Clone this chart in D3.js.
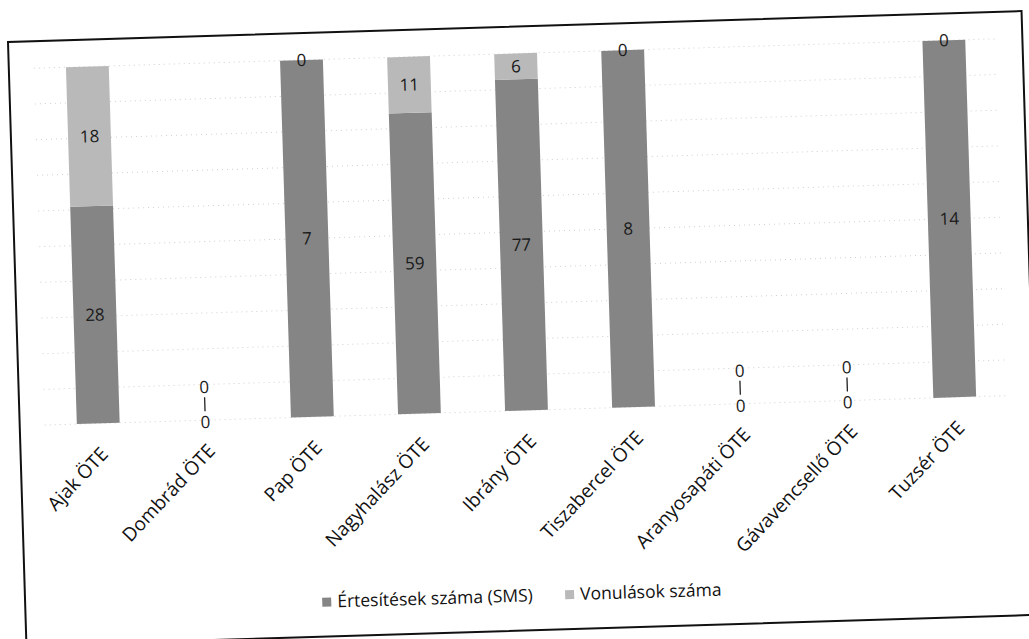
<!DOCTYPE html>
<html>
<head>
<meta charset="utf-8">
<script src="https://cdn.jsdelivr.net/npm/d3@7/dist/d3.min.js"></script>
<style>
  html, body { margin: 0; padding: 0; background: #ffffff; }
  svg { display: block; }
  text { font-family: "Open Sans", "DejaVu Sans", sans-serif; }
</style>
</head>
<body>
<svg id="chart" width="1029" height="639"></svg>
<script>
const categories = ["Ajak ÖTE", "Dombrád ÖTE", "Pap ÖTE", "Nagyhalász ÖTE", "Ibrány ÖTE",
                    "Tiszabercel ÖTE", "Aranyosapáti ÖTE", "Gávavencsellő ÖTE", "Tuzsér ÖTE"];
const smsValues = [28, 0, 7, 59, 77, 8, 0, 0, 14];        // Értesítések száma (SMS)
const vonulasValues = [18, 0, 0, 11, 6, 0, 0, 0, 0];      // Vonulások száma
const seriesNames = ["Értesítések száma (SMS)", "Vonulások száma"];
const gridTicks = d3.range(0, 1.0001, 0.1);

const colors = ["#858585", "#b9b9b9"];

const svg = d3.select("#chart");
// the scanned page is slightly rotated
const root = svg.append("g").attr("transform", "translate(8,42) rotate(-1.75)");

const frameW = 1014, frameH = 604;
root.append("rect")
  .attr("x", 0).attr("y", 0).attr("width", frameW).attr("height", frameH)
  .attr("fill", "#fff").attr("stroke", "#111").attr("stroke-width", 2);

const plotTop = 27, plotBottom = 384, plotLeft = 25, plotRight = 989;

const x = d3.scaleBand().domain(categories).range([plotLeft, plotRight])
  .paddingInner(0.6).paddingOuter(0.3);
const y = d3.scaleLinear().domain([0, 1]).range([plotBottom, plotTop]);

// gridlines
root.append("g").selectAll("line").data(gridTicks).join("line")
  .attr("x1", plotLeft).attr("x2", plotRight)
  .attr("y1", d => y(d)).attr("y2", d => y(d))
  .attr("stroke", "#cfcfcf").attr("stroke-width", 1)
  .attr("stroke-dasharray", "1,4");

// build stacked percent data
const rows = categories.map((c, i) => ({ cat: c, sms: smsValues[i], von: vonulasValues[i] }));
const keys = ["sms", "von"];
const stacked = d3.stack().keys(keys)
  .offset(d3.stackOffsetExpand)(rows);

const barG = root.append("g");
stacked.forEach((layer, li) => {
  barG.append("g").selectAll("rect").data(layer).join("rect")
    .attr("x", d => x(d.data.cat))
    .attr("width", x.bandwidth())
    .attr("y", d => isNaN(d[1]) ? y(0) : y(d[1]))
    .attr("height", d => isNaN(d[1]) ? 0 : Math.max(0, y(d[0]) - y(d[1])))
    .attr("fill", colors[li]);
});

// data labels
const lblG = root.append("g").attr("font-size", 17).attr("fill", "#1a1a1a")
  .attr("text-anchor", "middle");
stacked.forEach((layer, li) => {
  layer.forEach(d => {
    const cx = x(d.data.cat) + x.bandwidth() / 2;
    const val = d.data[keys[li]];
    const total = d.data.sms + d.data.von;
    if (total === 0) {
      const cy = li === 0 ? y(0) + 2 : y(0) - 33;
      lblG.append("text").attr("x", cx).attr("y", cy).attr("dy", "0.35em").text(val);
      if (li === 1) {
        lblG.append("line").attr("x1", cx).attr("x2", cx)
          .attr("y1", cy + 10).attr("y2", y(0) - 9)
          .attr("stroke", "#222").attr("stroke-width", 1.3);
      }
    } else {
      const cy = (y(d[0]) + y(d[1])) / 2;
      lblG.append("text").attr("x", cx).attr("y", cy).attr("dy", "0.35em").text(val);
    }
  });
});

// category axis labels
const axisG = root.append("g")
  .attr("transform", `translate(0,${plotBottom})`)
  .call(d3.axisBottom(x).tickSize(0).tickPadding(0));
axisG.select(".domain").remove();
axisG.selectAll("text")
  .attr("font-size", 19)
  .attr("fill", "#111")
  .attr("text-anchor", "end")
  .attr("dy", null).attr("y", 0)
  .attr("transform", "translate(10,32) rotate(-45)");

// legend
const legend = root.append("g").attr("transform", "translate(297,569)");
const legendX = [0, 243];
seriesNames.forEach((name, i) => {
  const g = legend.append("g").attr("transform", `translate(${legendX[i]},0)`);
  g.append("rect").attr("x", 0).attr("y", -4).attr("width", 9).attr("height", 9)
    .attr("fill", colors[i]);
  g.append("text").attr("x", 15).attr("y", 0).attr("dy", "0.35em")
    .attr("font-size", 17.5).attr("fill", "#111").text(name);
});
</script>
</body>
</html>
